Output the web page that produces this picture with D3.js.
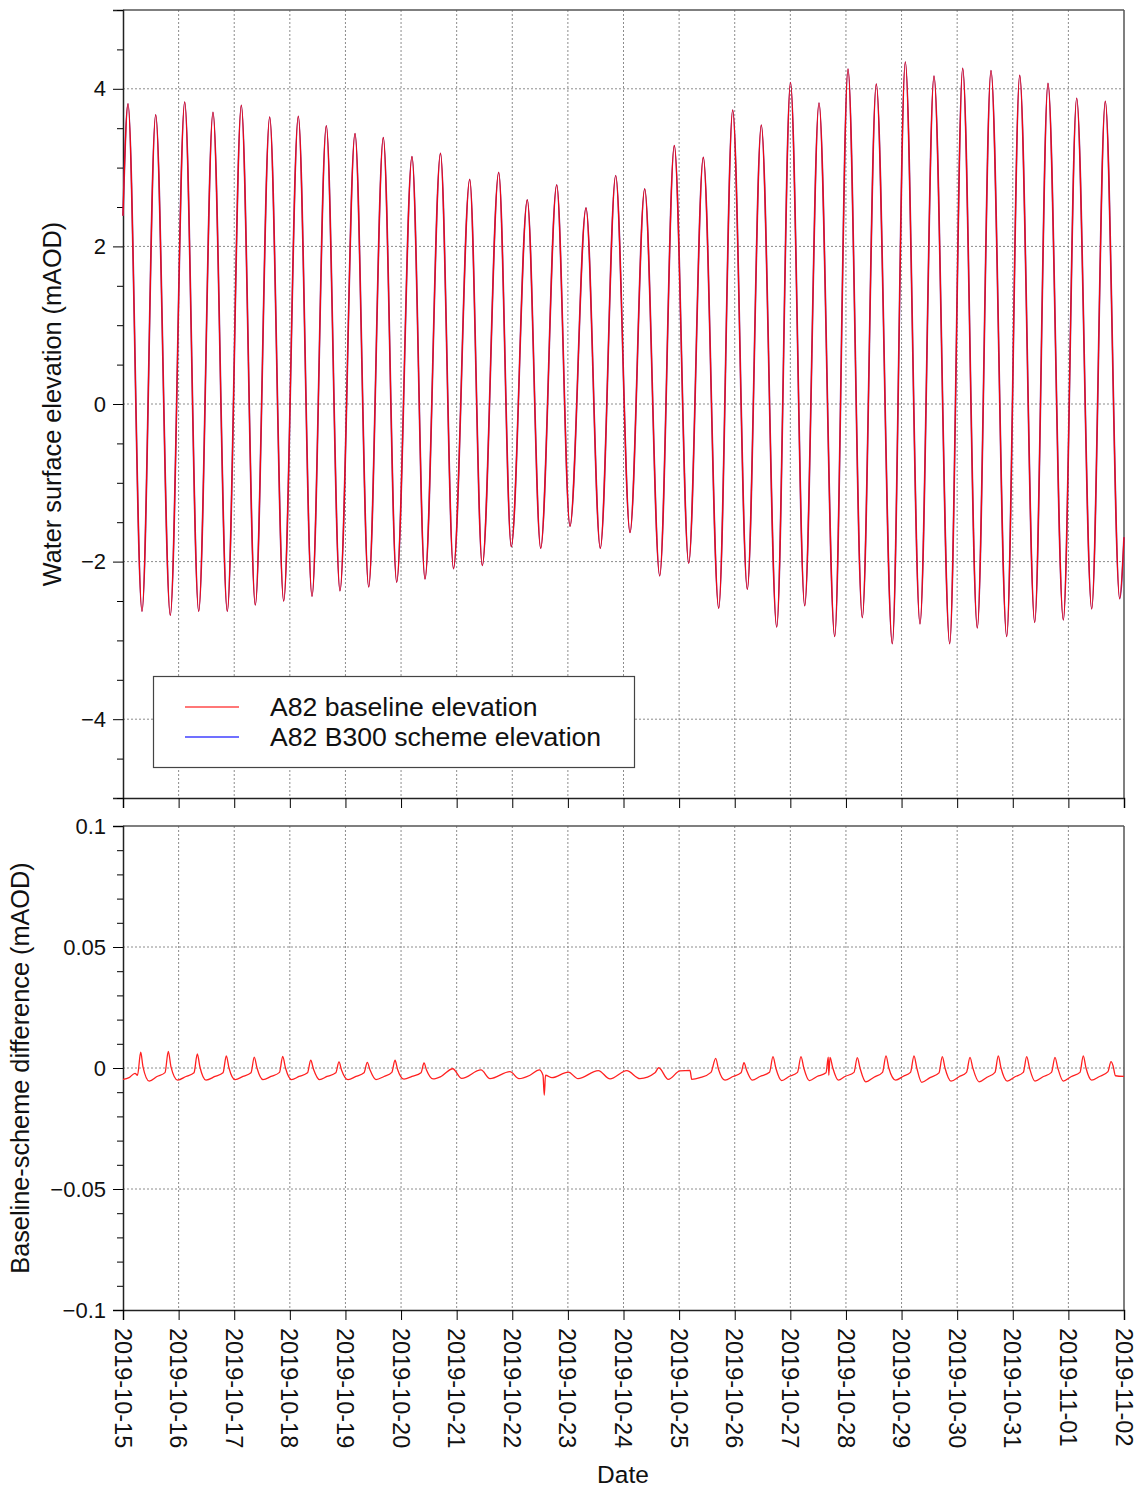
<!DOCTYPE html>
<html>
<head>
<meta charset="utf-8">
<script src="https://cdn.jsdelivr.net/npm/d3@7"></script>
<style>
  body { margin: 0; background: #fff; }
  svg { font-family: "Liberation Sans", Arial, sans-serif; }
  .grid line { stroke: #8c8c8c; stroke-dasharray: 2,2; stroke-width: 1; }
</style>
</head>
<body>
<div id="container"></div>
<script>
// high / low waters, hours after 2019-10-15 00:00
const startHours = [0];
const startLevels = [2.39];
const highHours = [2.16,14.11,26.63,38.84,51.06,63.31,75.66,87.74,100.13,112.34,124.72,137.02,149.63,162.14,174.48,187.17,199.82,212.63,225.15,237.93,250.44,263.13,275.47,288.07,300.37,312.89,325.10,337.62,350.00,362.39,374.60,386.99,399.20,411.58,423.93];
const highLevels = [3.81,3.67,3.83,3.70,3.79,3.64,3.65,3.53,3.43,3.38,3.14,3.18,2.85,2.94,2.59,2.78,2.49,2.90,2.73,3.28,3.13,3.73,3.54,4.08,3.82,4.25,4.06,4.34,4.16,4.26,4.23,4.17,4.07,3.88,3.84];
const lowHours = [8.20,20.41,32.67,45.01,57.10,69.35,81.57,93.65,106.03,118.12,130.33,142.63,155.06,167.57,180.26,192.91,205.99,218.81,231.62,244.14,257.09,269.43,282.12,294.20,307.15,319.06,332.01,343.96,356.78,368.69,381.38,393.46,405.81,418.06,430.14];
const lowLevels = [-2.63,-2.68,-2.63,-2.63,-2.55,-2.50,-2.44,-2.37,-2.32,-2.26,-2.22,-2.09,-2.05,-1.81,-1.83,-1.55,-1.83,-1.63,-2.18,-2.02,-2.59,-2.35,-2.83,-2.56,-2.95,-2.71,-3.04,-2.79,-3.04,-2.84,-2.95,-2.77,-2.74,-2.60,-2.47];
const endHours = [432];
const endLevels = [-1.69];

// baseline minus scheme
const diffHours = [0,2.59,5.18,6.26,7.64,8.63,11.35,14.67,18.13,19.55,20.71,23.61,27.19,30.64,32.07,33.23,35.82,39.70,43.16,44.58,45.75,48.34,51.79,55.24,56.66,57.83,60.42,63.87,67.54,68.92,70.13,72.72,75.96,79.63,81.01,82.22,84.80,88.04,91.84,93.22,94.30,97.11,100.56,104.01,105.43,106.60,109.19,112.64,116.01,117.39,118.47,121.27,124.72,128.61,129.90,130.98,133.79,137.24,142.29,146.17,154.50,158.38,167.01,170.90,175.64,179.66,181.25,181.81,182.33,185.14,192.18,196.37,205.13,210.18,217.39,223.12,229.60,231.19,235.34,240.38,244.70,245.43,249.01,253.76,255.79,257.00,259.80,263.26,266.71,268.00,269.08,271.58,274.91,279.01,280.52,281.73,284.27,287.42,291.09,292.60,293.81,296.18,299.51,303.39,304.38,304.60,305.12,306.33,308.70,311.59,315.48,316.90,318.07,320.53,324.11,327.78,329.29,330.50,333.48,336.62,339.86,341.37,342.58,344.69,348.28,352.16,353.59,354.75,357.34,360.79,364.03,365.54,366.75,369.42,372.88,376.33,377.75,378.92,381.63,384.96,388.54,390.01,391.22,393.59,397.04,400.71,402.22,403.43,405.80,409.12,413.01,414.43,415.60,418.06,421.21,425.09,426.39,427.25,428.33,432];
const diffValues = [-0.0047,-0.0040,-0.0022,-0.0030,0.0065,0.0005,-0.0054,-0.0035,-0.0019,0.0069,0.0005,-0.0050,-0.0035,-0.0020,0.0058,0.0003,-0.0050,-0.0035,-0.0020,0.0050,0.0000,-0.0048,-0.0035,-0.0020,0.0045,0.0000,-0.0048,-0.0035,-0.0018,0.0048,0.0000,-0.0048,-0.0035,-0.0020,0.0032,-0.0005,-0.0048,-0.0035,-0.0020,0.0025,-0.0008,-0.0048,-0.0035,-0.0020,0.0023,-0.0008,-0.0048,-0.0035,-0.0018,0.0032,-0.0005,-0.0046,-0.0035,-0.0020,0.0021,-0.0008,-0.0045,-0.0035,-0.0003,-0.0043,-0.0008,-0.0044,-0.0015,-0.0044,-0.0030,-0.0008,-0.0030,-0.0112,-0.0030,-0.0040,-0.0017,-0.0044,-0.0011,-0.0045,-0.0011,-0.0044,-0.0020,0.0001,-0.0047,-0.0012,-0.0010,-0.0047,-0.0040,-0.0018,0.0040,-0.0005,-0.0050,-0.0035,-0.0020,0.0022,-0.0008,-0.0050,-0.0035,-0.0018,0.0047,0.0000,-0.0052,-0.0035,-0.0018,0.0047,0.0000,-0.0052,-0.0035,-0.0020,0.0045,-0.0030,0.0044,0.0000,-0.0050,-0.0035,-0.0018,0.0043,0.0000,-0.0057,-0.0038,-0.0018,0.0050,0.0000,-0.0050,-0.0035,-0.0018,0.0050,0.0000,-0.0059,-0.0040,-0.0020,0.0047,0.0000,-0.0054,-0.0036,-0.0018,0.0044,0.0000,-0.0057,-0.0038,-0.0018,0.0050,0.0000,-0.0054,-0.0036,-0.0018,0.0047,0.0000,-0.0054,-0.0036,-0.0018,0.0044,0.0000,-0.0054,-0.0036,-0.0018,0.0050,0.0000,-0.0050,-0.0036,-0.0015,0.0026,0.0010,-0.0032,-0.0035];

const legendLabels = ["A82 baseline elevation", "A82 B300 scheme elevation"];
const topTicks = [-4, -2, 0, 2, 4];
const bottomTicks = [-0.1, -0.05, 0, 0.05, 0.1];

const t0 = Date.UTC(2019, 9, 15);
const toDate = h => new Date(t0 + h * 3600e3);

const elevation = []
  .concat(startHours.map((h, i) => [h, startLevels[i]]))
  .concat(highHours.map((h, i) => [h, highLevels[i]]))
  .concat(lowHours.map((h, i) => [h, lowLevels[i]]))
  .concat(endHours.map((h, i) => [h, endLevels[i]]))
  .sort((a, b) => a[0] - b[0]);
const diff = diffHours.map((h, i) => [h, diffValues[i]]);

const width = 1140, height = 1490;
const left = 123, right = 1124;
const top1 = 10, bot1 = 798, top2 = 826, bot2 = 1310;

const svg = d3.select('#container').append('svg')
  .attr('width', width).attr('height', height);

const x = d3.scaleUtc()
  .domain([new Date(t0), new Date(Date.UTC(2019, 10, 2))])
  .range([left, right]);
const y1 = d3.scaleLinear().domain([-5, 5]).range([bot1, top1]);
const y2 = d3.scaleLinear().domain([-0.1, 0.1]).range([bot2, top2]);
const days = x.ticks(d3.utcDay.every(1));

function panel(y, yTop, yBot, major, minor, fmt) {
  const g = svg.append('g');
  // grid
  const grid = g.append('g').attr('class', 'grid');
  grid.selectAll('.v').data(days.slice(1, -1)).enter().append('line')
    .attr('x1', d => x(d)).attr('x2', d => x(d))
    .attr('y1', yTop).attr('y2', yBot);
  grid.selectAll('.h').data(major.filter(v => y(v) > yTop + 1 && y(v) < yBot - 1)).enter().append('line')
    .attr('x1', left).attr('x2', right)
    .attr('y1', d => y(d)).attr('y2', d => y(d));
  // frame
  g.append('line').attr('x1', left).attr('x2', right).attr('y1', yTop).attr('y2', yTop)
    .attr('stroke', '#555').attr('stroke-width', 1.5);
  g.append('line').attr('x1', right).attr('x2', right).attr('y1', yTop).attr('y2', yBot)
    .attr('stroke', '#555').attr('stroke-width', 1.5);
  // y axes
  const ya = g.append('g').attr('transform', `translate(${left},0)`)
    .call(d3.axisLeft(y).tickValues(major).tickSize(10).tickPadding(7).tickFormat(fmt));
  g.append('g').attr('transform', `translate(${left},0)`)
    .call(d3.axisLeft(y).tickValues(minor).tickSize(6).tickFormat(''))
    .select('.domain').remove();
  ya.selectAll('text').attr('font-size', 22).attr('fill', '#111');
  ya.selectAll('.domain').attr('stroke', '#222').attr('stroke-width', 1.5);
  return g;
}

const minorTop = d3.range(-10, 11).map(v => v / 2).filter(v => v % 2 !== 0);
const minorBot = d3.range(-10, 11).map(v => v / 100).filter((v, i) => i % 5 !== 0);

panel(y1, top1, bot1, topTicks, minorTop, d3.format('d'));
panel(y2, top2, bot2, bottomTicks, minorBot, d3.format('~g'));

// x axes
const xa1 = svg.append('g').attr('transform', `translate(0,${bot1})`)
  .call(d3.axisBottom(x).tickValues(days).tickSize(10).tickFormat(''));
xa1.select('.domain').attr('stroke', '#222').attr('stroke-width', 1.5);

const xa2 = svg.append('g').attr('transform', `translate(0,${bot2})`)
  .call(d3.axisBottom(x).tickValues(days).tickSize(10).tickFormat(d3.utcFormat('%Y-%m-%d')));
xa2.select('.domain').attr('stroke', '#222').attr('stroke-width', 1.5);
xa2.selectAll('text')
  .attr('font-size', 23.5).attr('fill', '#111')
  .attr('transform', 'rotate(90)')
  .attr('x', 18).attr('y', 0).attr('dy', '0.38em')
  .style('text-anchor', 'start');

// lines
const line1 = d3.line().x(d => x(toDate(d[0]))).y(d => y1(d[1])).curve(d3.curveMonotoneX);
svg.append('path').datum(elevation).attr('d', line1)
  .attr('fill', 'none').attr('stroke', '#7a3a9a').attr('stroke-width', 1.7);
svg.append('path').datum(elevation).attr('d', line1)
  .attr('fill', 'none').attr('stroke', '#ff0000').attr('stroke-width', 1.2).attr('opacity', 0.92);

const line2 = d3.line().x(d => x(toDate(d[0]))).y(d => y2(d[1])).curve(d3.curveMonotoneX);
svg.append('path').datum(diff).attr('d', line2)
  .attr('fill', 'none').attr('stroke', '#ff2020').attr('stroke-width', 1.3);

// legend
const lg = svg.append('g');
lg.append('rect').attr('x', 153.5).attr('y', 676.5).attr('width', 481).attr('height', 91)
  .attr('fill', '#fff').attr('stroke', '#444').attr('stroke-width', 1.2);
const lcol = ['#ff4a4a', '#4040ff'];
legendLabels.forEach((t, i) => {
  lg.append('line').attr('x1', 185).attr('x2', 239).attr('y1', 707 + i * 30).attr('y2', 707 + i * 30)
    .attr('stroke', lcol[i]).attr('stroke-width', 1.3);
  lg.append('text').attr('x', 270).attr('y', 716 + i * 30).attr('font-size', 26.6)
    .attr('fill', '#111').text(t);
});

// titles
svg.append('text').attr('transform', 'translate(61,404) rotate(-90)')
  .attr('text-anchor', 'middle').attr('font-size', 25.3).attr('fill', '#111')
  .text('Water surface elevation (mAOD)');
svg.append('text').attr('transform', 'translate(29,1068) rotate(-90)')
  .attr('text-anchor', 'middle').attr('font-size', 25.3).attr('fill', '#111')
  .text('Baseline-scheme difference (mAOD)');
svg.append('text').attr('x', 623).attr('y', 1483)
  .attr('text-anchor', 'middle').attr('font-size', 24.5).attr('fill', '#111')
  .text('Date');
</script>
</body>
</html>
